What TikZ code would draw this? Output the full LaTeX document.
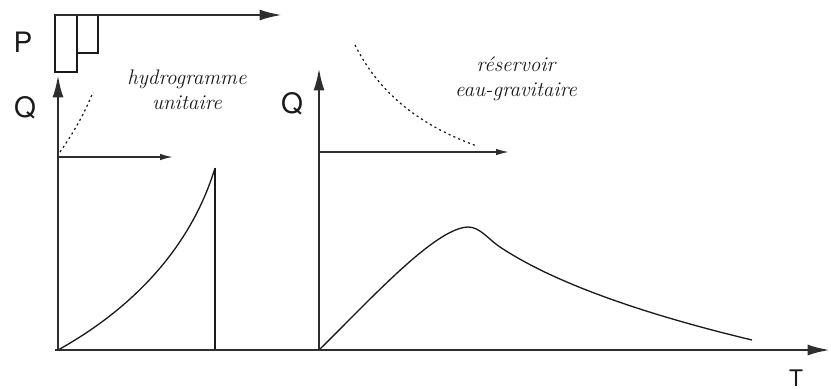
\documentclass[tikz,border=0pt]{standalone}
\usepackage{fontspec}
\setsansfont{TeX Gyre Heros}
\usetikzlibrary{arrows.meta, positioning, calc}
\definecolor{ink}{HTML}{2E2E2E}
\definecolor{pen}{HTML}{1A1A1A}

\begin{document}
\begin{tikzpicture}[
  x=0.02cm, y=-0.02cm,
  >={Latex[length=4.5mm, width=2.2mm]},
  axis/.style={->, line width=1.4pt, ink},
  flow/.style={-{Latex[length=2.6mm, width=1.3mm]}, line width=0.9pt, ink},
  curve/.style={line width=0.75pt, pen},
  trend/.style={line width=0.7pt, pen, dash pattern=on 1.2pt off 1.8pt},
  axlabel/.style={font=\sffamily\fontsize{16}{18}\selectfont, text=pen},
  caption/.style={font=\itshape\large, text=pen, align=center},
]

% Frame
\useasboundingbox (0,0) rectangle (831,389);

% =============================================
% Rain axis with the two pulses
% =============================================
\coordinate (p0) at (55,15);
\coordinate (p1) at (282,15);
\draw[line width=0.6pt, pen] (55,15) rectangle (77,72);
\draw[line width=0.6pt, pen] (77,15) rectangle (98,53);
\draw[axis] (p0) -- (p1);
\node[axlabel] (lblP) at (23,42) {P};

% =============================================
% Left part: unit hydrograph
% =============================================
\coordinate (o1) at (58,350);
\coordinate (q1) at (58,75);
\coordinate (h1s) at (58,157);
\coordinate (h1e) at (173,157);
\coordinate (c1) at (215,168);
\coordinate (c1b) at (215,350);

\draw[axis] (o1) -- (q1);
\node[axlabel] (lblQa) at (25,108) {Q};
\draw[flow] (h1s) -- (h1e);
\draw[trend] (60,152) .. controls (72,135) and (84,115) .. (93,92);

\draw[curve] (o1) .. controls (130,310) and (190,250) .. (c1);
\draw[line width=0.7pt, pen] (c1) -- (c1b);

\node[caption] (capL) at (187,90) {hydrogramme\\unitaire};

% =============================================
% Right part: gravitational reservoir
% =============================================
\coordinate (o2) at (319,350);
\coordinate (q2) at (319,68);
\coordinate (h2s) at (319,152);
\coordinate (h2e) at (509,152);
\coordinate (pk) at (468,227);
\coordinate (bend) at (500,247);
\coordinate (tail) at (752,340);

\draw[axis] (o2) -- (q2);
\node[axlabel] (lblQb) at (292,104) {Q};
\draw[flow] (h2s) -- (h2e);
\draw[trend] (355,45) .. controls (375,85) and (410,122) .. (477,146);

\draw[curve] (o2) .. controls (370,300) and (435,228) .. (pk)
  .. controls (480,227) and (488,239) .. (bend)
  .. controls (560,287) and (660,318) .. (tail);

\node[caption] (capR) at (516,79) {réservoir\\eau-gravitaire};

% =============================================
% Time axis
% =============================================
\coordinate (t0) at (55,350);
\coordinate (t1) at (830,350);
\draw[axis] (t0) -- (t1);
\node[axlabel, font=\sffamily\fontsize{13}{15}\selectfont] (lblT) at (796,378) {T};

\end{tikzpicture}
\end{document}
